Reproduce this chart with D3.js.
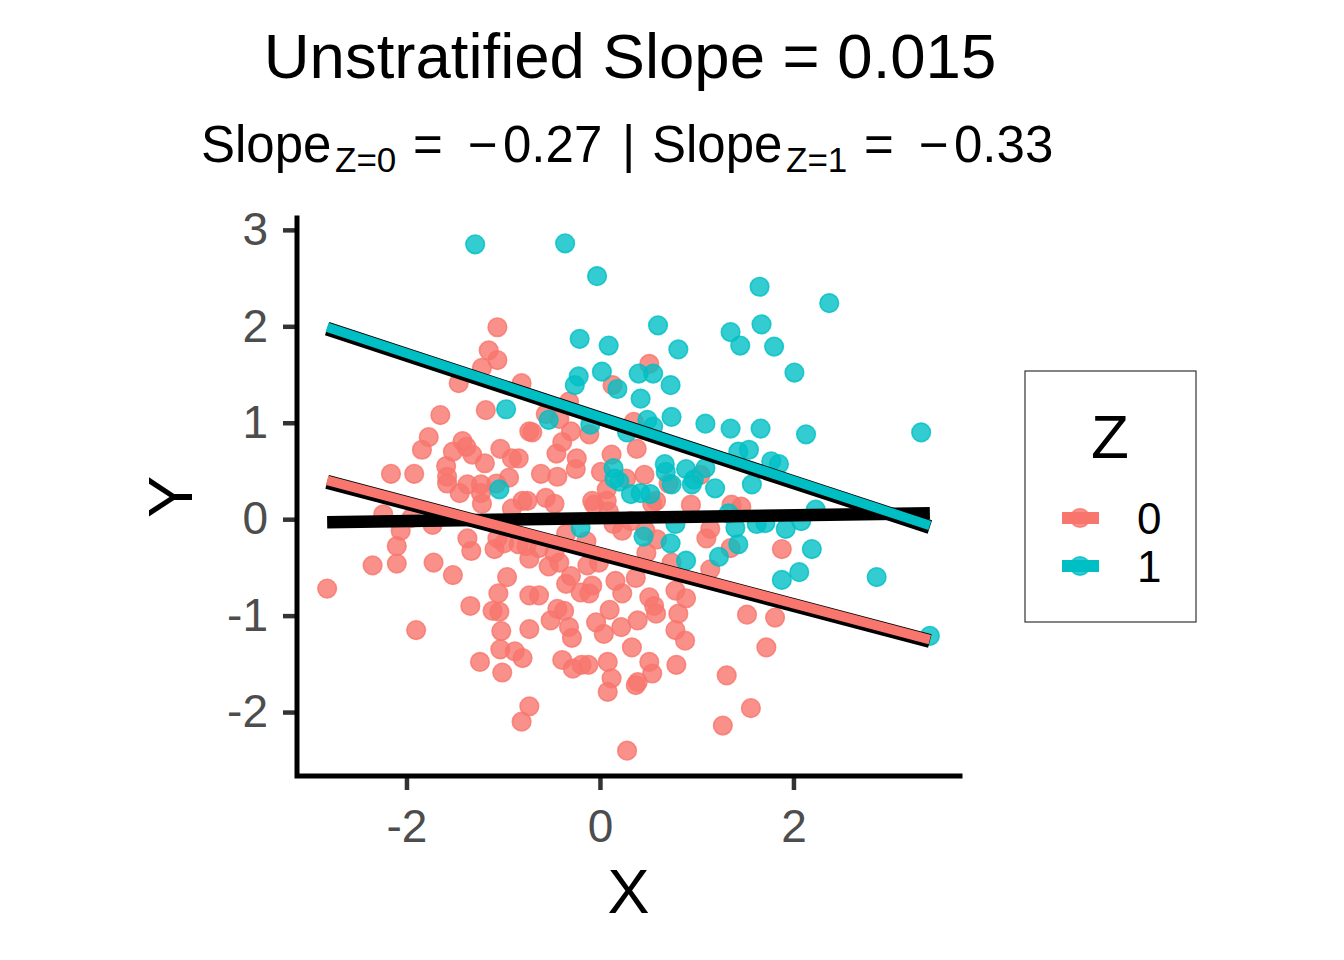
<!DOCTYPE html>
<html>
<head>
<meta charset="utf-8">
<script src="https://cdn.jsdelivr.net/npm/d3@7"></script>
<style>
  body { margin: 0; background: #fff; }
  svg { display: block; font-family: "Liberation Sans", Arial, sans-serif; }
</style>
</head>
<body>
<div id="chart"></div>
<script>
// data
const groups = ["0", "1"];
const groupColors = ["#F8766D", "#00BFC4"];

const pointsZ0 = [
  [-1.06,1.99],[-1.15,1.75],[-1.06,1.65],[-1.22,1.57],[-1.46,1.41],[-0.81,1.41],[-1.18,1.13],[-1.65,1.08],
  [-0.73,0.91],[-1.77,0.85],[-1.84,0.72],[-1.42,0.81],[-1.38,0.75],[-1.52,0.70],[-1.32,0.67],[-1.03,0.73],
  [-0.91,0.63],[-1.19,0.58],[-1.59,0.55],[-2.16,0.47],[-1.92,0.47],[-0.94,0.43],[-1.58,0.44],[-1.58,0.37],
  [-1.37,0.36],[-1.45,0.27],[-1.23,0.36],[-1.07,0.37],[-1.23,0.27],[-1.22,0.16],[-0.80,0.19],[-0.91,0.11],
  [-2.24,0.05],[-1.95,0.01],[-2.06,-0.12],[-1.73,-0.06],[-1.37,-0.20],[-1.06,-0.20],
  [-2.10,-0.28],[-1.33,-0.33],[-1.09,-0.31],[-0.99,-0.25],[-0.84,-0.26],[-0.73,-0.41],[-2.35,-0.48],
  [-2.10,-0.46],[-1.72,-0.45],[-1.52,-0.58],[-0.96,-0.60],[-2.82,-0.72],[-1.05,-0.77],[-1.34,-0.90],
  [-1.11,-0.95],[-1.04,-0.96],[-0.73,-0.79],[-1.90,-1.15],[-1.02,-1.16],[-0.73,-1.14],[-1.03,-1.35],
  [-0.88,-1.37],[-0.80,-1.44],[-1.24,-1.48],[-1.01,-1.59],[-0.73,-1.94],[-0.81,-2.10],
  [0.51,1.61],[0.13,1.39],[-0.32,1.22],[-0.56,1.09],[-0.70,0.90],[-0.42,1.04],[-0.30,0.91],[-0.11,0.88],
  [-0.39,0.80],[0.35,1.01],[0.38,0.73],[0.12,0.67],[-0.45,0.68],[-0.24,0.63],[-0.25,0.52],[0.01,0.49],
  [-0.61,0.47],[-0.44,0.44],[-0.84,0.63],[0.27,0.42],[0.46,0.46],[0.71,0.37],[1.04,0.46],[0.07,0.31],
  [-0.08,0.19],[0.07,0.19],[0.58,0.19],[0.94,0.15],[-0.56,0.22],[-0.75,0.19],[1.36,0.15],
  [-0.53,-0.49],[-0.42,-0.45],[-0.13,-0.48],[-0.01,-0.45],[-0.30,-0.59],[-0.35,-0.67],[-0.63,-0.79],
  [-0.20,-0.76],[-0.08,-0.69],[-0.11,-0.77],[0.16,-0.64],[0.23,-0.77],[0.37,-0.61],[0.51,-0.81],
  [0.56,-0.90],[0.58,-0.98],[0.78,-0.74],[0.89,-0.82],[0.81,-0.98],[-0.44,-0.93],[-0.37,-0.95],
  [-0.51,-1.05],[-0.32,-1.12],[-0.29,-1.23],[0.10,-0.94],[-0.04,-1.07],[0.04,-1.19],[0.22,-1.12],
  [0.39,-1.05],[0.33,-1.33],[0.78,-1.15],[0.88,-1.26],[-0.39,-1.46],[-0.28,-1.55],[-0.19,-1.51],
  [-0.12,-1.51],[0.08,-1.48],[0.12,-1.65],[0.08,-1.79],[0.39,-1.69],[0.37,-1.72],[0.51,-1.48],
  [0.54,-1.60],[0.79,-1.51],[1.31,-1.62],[1.27,-2.14],[0.28,-2.40],
  [-0.76,-0.28],[-0.63,-0.30],[1.46,0.13],[1.88,-0.31],[1.35,-0.30],[1.52,-0.99],[1.81,-1.02],
  [1.72,-1.33],[1.56,-1.96],
  [-0.47,0.16],[-0.06,0.15],[0.09,0.08],[0.14,-0.05],[0.23,-0.12],[0.32,-0.02],[0.54,0.16],[1.14,-0.10],
  [0.47,-0.12],[0.59,-0.21],[-0.35,-0.15],[-0.14,-0.23],[-0.47,-0.35],[0.48,-0.35],[0.74,-0.45],
  [1.14,-0.52],[1.10,-0.20]
];

const pointsZ1 = [
  [-1.29,2.85],[-0.36,2.86],[-0.03,2.52],[0.60,2.01],[1.35,1.94],[1.45,1.80],[-0.21,1.87],[0.09,1.80],
  [0.81,1.76],[-0.22,1.48],[-0.26,1.39],[0.02,1.53],[0.40,1.51],[0.55,1.51],[0.73,1.39],[0.18,1.35],
  [0.42,1.25],[0.74,1.06],[1.09,0.99],[1.35,0.94],[0.49,1.03],[0.55,0.96],[0.28,0.90],[-0.53,1.03],
  [-0.10,0.98],[1.43,0.70],[0.67,0.57],[0.68,0.49],[0.89,0.52],[0.97,0.41],[1.09,0.53],[1.19,0.32],
  [0.14,0.53],[0.15,0.42],[0.32,0.26],[0.42,0.27],[0.52,0.26],[0.74,0.36],[-0.97,1.14],[-1.04,0.31],
  [1.65,2.41],[2.37,2.24],[1.67,2.02],[1.80,1.79],[2.01,1.52],[1.66,0.94],[2.13,0.88],[3.32,0.90],
  [1.54,0.72],[1.77,0.60],[1.85,0.57],[1.57,0.36],[2.23,0.10],
  [1.40,-0.09],[1.62,-0.05],[1.71,-0.04],[1.92,-0.10],[2.08,-0.02],[1.43,-0.26],[2.19,-0.31],
  [2.06,-0.55],[1.88,-0.63],[2.86,-0.60],[3.41,-1.21],
  [-0.20,-0.09],[0.45,-0.18],[0.73,-0.25],[0.89,-0.43],[1.23,-0.39],[0.78,-0.05],[0.20,0.39],
  [0.95,0.36],[1.33,0.06]
];

// fitted lines (per group, then pooled)
const groupSlopes = [-0.265, -0.33];
const groupIntercepts = [-0.345, 1.06];
const pooledSlope = 0.015;
const pooledIntercept = 0.01;

const xTicks = [-2, 0, 2];
const yTicks = [-2, -1, 0, 1, 2, 3];

const width = 1344, height = 960;
const panel = { left: 297, right: 960, top: 218, bottom: 776 };

const svg = d3.select("#chart").append("svg")
  .attr("width", width)
  .attr("height", height);

const allPoints = pointsZ0.concat(pointsZ1);
const xExt = d3.extent(allPoints, d => d[0]);
const yExt = d3.extent(allPoints, d => d[1]);
// ggplot style 5% expansion
const xPad = (xExt[1] - xExt[0]) * 0.05;
const yPad = (yExt[1] - yExt[0]) * 0.05;

const x = d3.scaleLinear().domain([xExt[0] - xPad, xExt[1] + xPad]).range([panel.left, panel.right]);
const y = d3.scaleLinear().domain([yExt[0] - yPad, yExt[1] + yPad]).range([panel.bottom, panel.top]);
const color = d3.scaleOrdinal().domain(groups).range(groupColors);

// Title + subtitle
svg.append("text")
  .attr("x", 630).attr("y", 78)
  .attr("text-anchor", "middle")
  .attr("font-size", "63.5px")
  .text("Unstratified Slope = 0.015");

const sub = svg.append("text").attr("font-size", "51px").attr("fill", "#000");
const subParts = [
  { t: "Slope", x: 201, y: 162, s: 51 },
  { t: "Z=0", x: 335, y: 172, s: 35 },
  { t: "=", x: 413, y: 162, s: 51 },
  { t: "\u2212", x: 468, y: 162, s: 51 },
  { t: "0.27", x: 503, y: 162, s: 51 },
  { t: "|", x: 622, y: 162, s: 51 },
  { t: "Slope", x: 652, y: 162, s: 51 },
  { t: "Z=1", x: 786, y: 172, s: 35 },
  { t: "=", x: 864, y: 162, s: 51 },
  { t: "\u2212", x: 919, y: 162, s: 51 },
  { t: "0.33", x: 954, y: 162, s: 51 }
];
subParts.forEach(p => {
  sub.append("tspan").attr("x", p.x).attr("y", p.y).attr("font-size", p.s + "px").text(p.t);
});

// Points
const plot = svg.append("g");
[pointsZ0, pointsZ1].forEach((pts, i) => {
  plot.append("g").selectAll("circle")
    .data(pts)
    .join("circle")
    .attr("cx", d => x(d[0]))
    .attr("cy", d => y(d[1]))
    .attr("r", 9.3)
    .attr("fill", color(groups[i]))
    .attr("fill-opacity", 0.8)
    .attr("stroke", color(groups[i]))
    .attr("stroke-opacity", 0.8)
    .attr("stroke-width", 1.6);
});

// Fit lines
const line = d3.line().x(d => x(d[0])).y(d => y(d[1]));
const xs = xExt;

plot.append("path")
  .attr("d", line(xs.map(v => [v, pooledIntercept + pooledSlope * v])))
  .attr("stroke", "#000")
  .attr("stroke-width", 12.5)
  .attr("fill", "none");

groups.forEach((g, i) => {
  const pts = xs.map(v => [v, groupIntercepts[i] + groupSlopes[i] * v]);
  plot.append("path")
    .attr("d", line(pts))
    .attr("transform", "translate(0,1.5)")
    .attr("stroke", "#000")
    .attr("stroke-width", 14)
    .attr("fill", "none");
  plot.append("path")
    .attr("d", line(pts))
    .attr("stroke", color(g))
    .attr("stroke-width", 9.5)
    .attr("fill", "none");
});

// Axes
const yAxisG = svg.append("g")
  .attr("transform", `translate(${panel.left},0)`)
  .call(d3.axisLeft(y).tickValues(yTicks).tickSize(14).tickPadding(15).tickFormat(d3.format("d")));
const xAxisG = svg.append("g")
  .attr("transform", `translate(0,${panel.bottom})`)
  .call(d3.axisBottom(x).tickValues(xTicks).tickSize(14).tickPadding(19).tickFormat(d3.format("d")));

[yAxisG, xAxisG].forEach(g => {
  g.select(".domain").remove();
  g.selectAll(".tick line").attr("stroke", "#333").attr("stroke-width", 4.5);
  g.selectAll(".tick text")
    .attr("fill", "#4D4D4D")
    .attr("font-size", "46px")
    .attr("font-family", "Liberation Sans, Arial, sans-serif")
    .text(d => String(d));
});

svg.append("path")
  .attr("d", `M${panel.left},${panel.top}V${panel.bottom}H${panel.right}`)
  .attr("stroke", "#000")
  .attr("stroke-width", 5)
  .attr("stroke-linecap", "square")
  .attr("fill", "none");

// Axis titles
svg.append("text")
  .attr("x", (panel.left + panel.right) / 2)
  .attr("y", 913)
  .attr("text-anchor", "middle")
  .attr("font-size", "63px")
  .text("X");

svg.append("text")
  .attr("transform", `translate(192,${(panel.top + panel.bottom) / 2}) rotate(-90)`)
  .attr("text-anchor", "middle")
  .attr("font-size", "63px")
  .text("Y");

// Legend
const legend = svg.append("g");
legend.append("rect")
  .attr("x", 1025).attr("y", 371)
  .attr("width", 171).attr("height", 251)
  .attr("fill", "#fff")
  .attr("stroke", "#333")
  .attr("stroke-width", 1.2);

legend.append("text")
  .attr("x", 1091).attr("y", 458)
  .attr("font-size", "62px")
  .text("Z");

groups.forEach((g, i) => {
  const ky = 518 + i * 48;
  const item = legend.append("g").attr("transform", `translate(1080,${ky})`);
  item.append("line")
    .attr("x1", -18).attr("x2", 19)
    .attr("stroke", color(g))
    .attr("stroke-width", 12);
  item.append("circle")
    .attr("r", 9.3)
    .attr("fill", color(g))
    .attr("fill-opacity", 0.8)
    .attr("stroke", color(g))
    .attr("stroke-opacity", 0.8)
    .attr("stroke-width", 1.6);
  item.append("text")
    .attr("x", 57).attr("y", 16)
    .attr("font-size", "44px")
    .text(g);
});
</script>
</body>
</html>
